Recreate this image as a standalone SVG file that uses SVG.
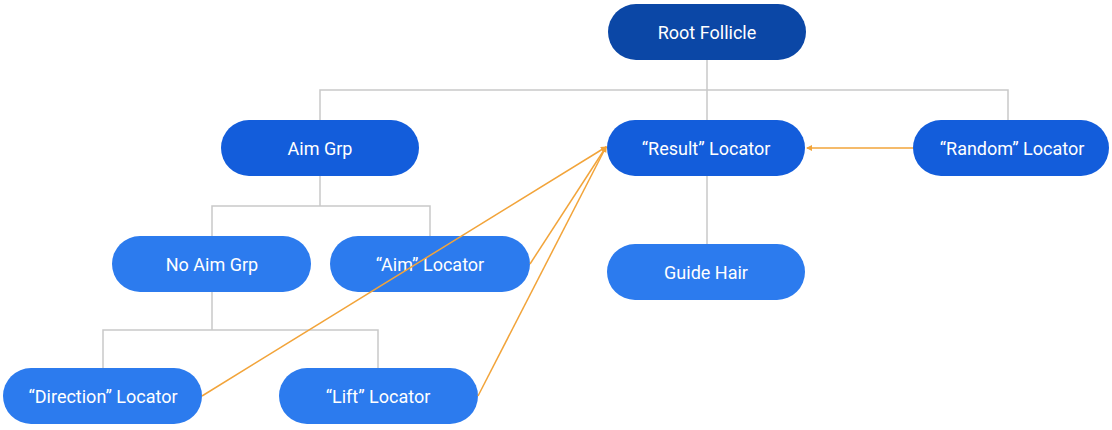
<svg xmlns="http://www.w3.org/2000/svg" width="1112" height="430" viewBox="0 0 1112 430">
<style>
text{font-family:Roboto,"Liberation Sans",sans-serif;font-size:18px;fill:#fff;text-anchor:middle;dominant-baseline:central}
.l1{fill:#0b47a6}
.l2{fill:#135ddb}
.l3{fill:#2c7bee}
.tree{stroke:#c9c9c9;stroke-width:1.5;fill:none}
.link{stroke:#f2a43a;stroke-width:1.5;fill:none}
</style>
<defs>
<marker id="ah" viewBox="0 0 6 6" refX="5" refY="3" markerWidth="6" markerHeight="6" orient="auto" markerUnits="userSpaceOnUse">
<path d="M0,0 L6,3 L0,6 z" fill="#f2a43a"/>
</marker>
</defs>
<rect width="1112" height="430" fill="#fff"/>
<g id="root"><rect class="l1" x="608" y="4" width="198" height="56" rx="28"/><text x="707" y="32">Root Follicle</text></g>
<g id="aimgrp"><rect class="l2" x="221" y="120" width="198" height="56" rx="28"/><text x="320" y="148">Aim Grp</text></g>
<g id="result"><rect class="l2" x="607" y="120" width="198" height="56" rx="28"/><text x="706" y="148">“Result” Locator</text></g>
<g id="random"><rect class="l2" x="913" y="120" width="196" height="56" rx="28"/><text x="1012" y="148">“Random” Locator</text></g>
<g id="noaim"><rect class="l3" x="112" y="236" width="199" height="56" rx="28"/><text x="212" y="264">No Aim Grp</text></g>
<g id="aimloc"><rect class="l3" x="330" y="236" width="200" height="56" rx="28"/><text x="430" y="264">“Aim” Locator</text></g>
<g id="guide"><rect class="l3" x="607" y="244" width="198" height="56" rx="28"/><text x="706" y="272">Guide Hair</text></g>
<g id="direction"><rect class="l3" x="3" y="368" width="199" height="56" rx="28"/><text x="103" y="396">“Direction” Locator</text></g>
<g id="lift"><rect class="l3" x="279" y="368" width="199" height="56" rx="28"/><text x="378" y="396">“Lift” Locator</text></g>
<g id="connectors">
<path class="tree" d="M707,60 V120 M320,120 V90 H1008 V120"/>
<path class="tree" d="M320,176 V206 M212,236 V206 H430 V236"/>
<path class="tree" d="M707,176 V244"/>
<path class="tree" d="M212,292 V330 M103,368 V330 H378 V368"/>
<path class="link" d="M913,148 H807" marker-end="url(#ah)"/>
<path class="link" d="M202,396 L606,147" marker-end="url(#ah)"/>
<path class="link" d="M530,264 L606,147" marker-end="url(#ah)"/>
<path class="link" d="M478,396 L606,147" marker-end="url(#ah)"/>
</g>
</svg>
